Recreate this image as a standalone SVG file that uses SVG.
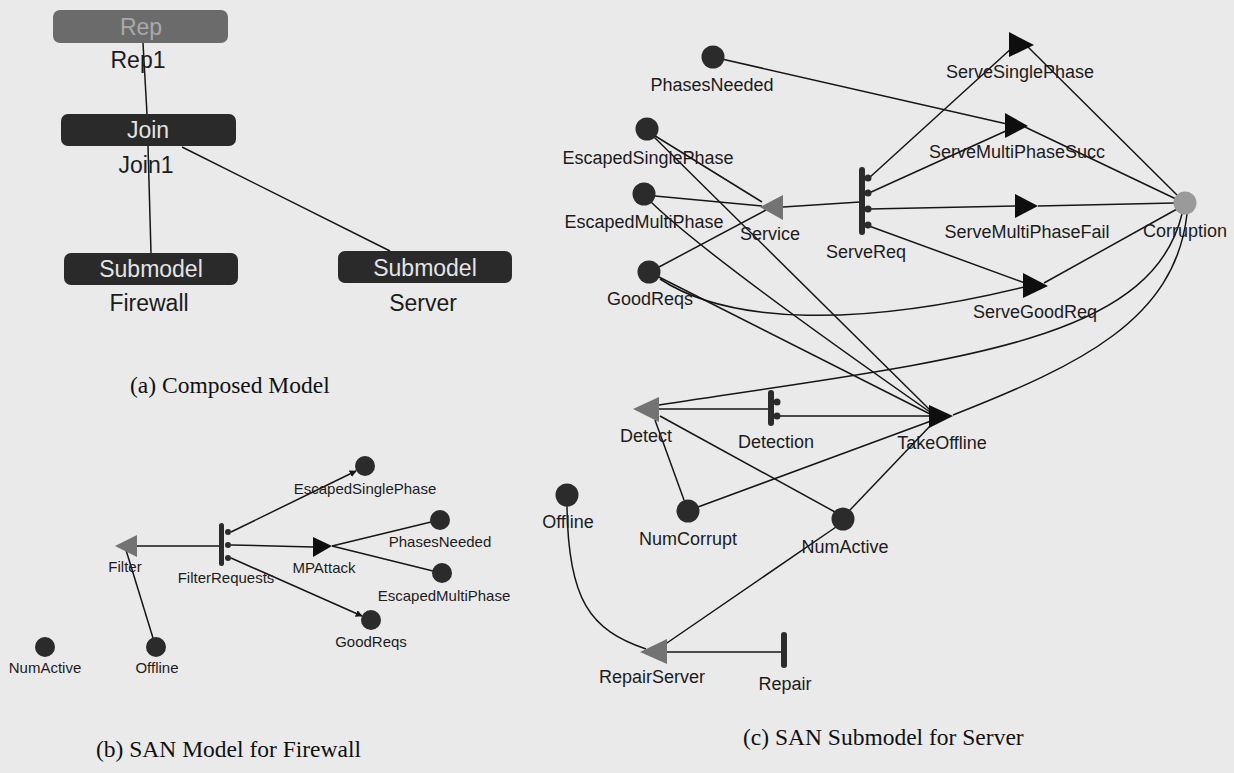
<svg xmlns="http://www.w3.org/2000/svg" width="1234" height="773" viewBox="0 0 1234 773">
  <defs>
    <style>
      .lbl { font-family: "Liberation Sans", Arial, sans-serif; fill: #1c1c1c; text-anchor: middle; }
      .fw { font-size: 15px; }
      .sv { font-size: 18px; }
      .cm { font-size: 23px; }
      .boxtxt { font-family: "Liberation Sans", Arial, sans-serif; font-size: 23px; text-anchor: middle; fill: #e4e4e4; }
      .cap { font-family: "Liberation Serif", "Times New Roman", serif; font-size: 23.5px; fill: #111; }
      .arc { stroke: #161616; stroke-width: 1.5; fill: none; }
      .place { fill: #2b2b2b; }
      .shared { fill: #9a9a9a; }
      .ingate { fill: #737373; }
      .outgate { fill: #0e0e0e; }
      .act { fill: #2b2b2b; }
      .box { fill: #2a2a2a; }
      .repbox { fill: #6b6b6b; }
    </style>
    <marker id="head" viewBox="0 0 10 10" refX="9" refY="5" markerWidth="7" markerHeight="7" orient="auto" markerUnits="userSpaceOnUse">
      <path d="M0,0 L10,5 L0,10 z" fill="#161616"/>
    </marker>
  </defs>

  <rect width="1234" height="773" fill="#eaeaea"/>

  <!-- ===== (a) composed model ===== -->
  <g id="composed-connectors">
    <line class="arc" x1="143" y1="43" x2="147" y2="114"/>
    <line class="arc" x1="148" y1="146" x2="151" y2="253"/>
    <line class="arc" x1="182" y1="147" x2="390" y2="251"/>
  </g>
  <g id="rep1">
    <rect class="repbox" x="53" y="10" width="175" height="33" rx="7"/>
    <text class="boxtxt" x="141" y="35" fill="#a9a9a9" style="fill:#a9a9a9">Rep</text>
    <text class="lbl cm" x="138" y="68">Rep1</text>
  </g>
  <g id="join1">
    <rect class="box" x="61" y="114" width="175" height="32" rx="7"/>
    <text class="boxtxt" x="148" y="138">Join</text>
    <text class="lbl cm" x="146" y="173">Join1</text>
  </g>
  <g id="firewall-submodel">
    <rect class="box" x="64" y="253" width="174" height="32" rx="7"/>
    <text class="boxtxt" x="151" y="277">Submodel</text>
    <text class="lbl cm" x="149" y="311">Firewall</text>
  </g>
  <g id="server-submodel">
    <rect class="box" x="338" y="251" width="174" height="32" rx="7"/>
    <text class="boxtxt" x="425" y="276">Submodel</text>
    <text class="lbl cm" x="423" y="311">Server</text>
  </g>
  <text class="cap" x="130" y="393">(a) Composed Model</text>

  <!-- ===== (b) firewall SAN ===== -->
  <g id="firewall-connectors">
    <line class="arc" x1="137" y1="546" x2="220" y2="546"/>
    <line class="arc" x1="231" y1="545" x2="313" y2="547"/>
    <line class="arc" x1="332" y1="546" x2="431" y2="522"/>
    <line class="arc" x1="332" y1="546" x2="433" y2="571"/>
    <line class="arc" x1="231" y1="532" x2="356" y2="471" marker-end="url(#head)"/>
    <line class="arc" x1="231" y1="558" x2="362" y2="616" marker-end="url(#head)"/>
    <line class="arc" x1="153" y1="638" x2="126" y2="550"/>
  </g>
  <g id="fw-filter">
    <polygon class="ingate" points="115,546 137,535 137,557"/>
    <text class="lbl fw" x="125" y="572">Filter</text>
  </g>
  <g id="fw-filterrequests">
    <rect class="act" x="219" y="523" width="5" height="43" rx="2.5"/>
    <circle class="act" cx="228" cy="532" r="3"/>
    <circle class="act" cx="228" cy="545" r="3"/>
    <circle class="act" cx="228" cy="558" r="3"/>
    <text class="lbl fw" x="226" y="583">FilterRequests</text>
  </g>
  <g id="fw-mpattack">
    <polygon class="outgate" points="313,537 332,546 313,557"/>
    <text class="lbl fw" x="324" y="573">MPAttack</text>
  </g>
  <g id="fw-escapedsinglephase">
    <circle class="place" cx="365" cy="466" r="10"/>
    <text class="lbl fw" x="365" y="494">EscapedSinglePhase</text>
  </g>
  <g id="fw-phasesneeded">
    <circle class="place" cx="440" cy="520" r="10"/>
    <text class="lbl fw" x="440" y="547">PhasesNeeded</text>
  </g>
  <g id="fw-escapedmultiphase">
    <circle class="place" cx="442" cy="573" r="10"/>
    <text class="lbl fw" x="444" y="601">EscapedMultiPhase</text>
  </g>
  <g id="fw-goodreqs">
    <circle class="place" cx="371" cy="620" r="10"/>
    <text class="lbl fw" x="371" y="647">GoodReqs</text>
  </g>
  <g id="fw-offline">
    <circle class="place" cx="156" cy="647" r="10"/>
    <text class="lbl fw" x="157" y="673">Offline</text>
  </g>
  <g id="fw-numactive">
    <circle class="place" cx="45" cy="647" r="10"/>
    <text class="lbl fw" x="45" y="673">NumActive</text>
  </g>
  <text class="cap" x="96" y="757">(b) SAN Model for Firewall</text>

  <!-- ===== (c) server SAN ===== -->
  <g id="server-connectors">
    <line class="arc" x1="713" y1="57" x2="1007" y2="124"/>
    <line class="arc" x1="869" y1="178" x2="1013" y2="47"/>
    <line class="arc" x1="1027" y1="46" x2="1178" y2="196"/>
    <line class="arc" x1="869" y1="193" x2="1008" y2="130"/>
    <line class="arc" x1="1025" y1="127" x2="1176" y2="199"/>
    <line class="arc" x1="869" y1="209" x2="1015" y2="206"/>
    <line class="arc" x1="1038" y1="206" x2="1174" y2="203"/>
    <line class="arc" x1="869" y1="226" x2="1025" y2="283"/>
    <line class="arc" x1="1044" y1="283" x2="1177" y2="209"/>
    <line class="arc" x1="783" y1="207" x2="860" y2="202"/>
    <line class="arc" x1="652" y1="134" x2="762" y2="202"/>
    <line class="arc" x1="655" y1="196" x2="762" y2="206"/>
    <line class="arc" x1="659" y1="267" x2="766" y2="210"/>
    <line class="arc" x1="652" y1="135" x2="930" y2="410"/>
    <path class="arc" d="M650,201 Q705,255 930,412"/>
    <line class="arc" x1="657" y1="276" x2="930" y2="414"/>
    <path class="arc" d="M660,279 C730,325 860,327 1024,287"/>
    <line class="arc" x1="768" y1="409" x2="659" y2="409"/>
    <line class="arc" x1="780" y1="416" x2="929" y2="416"/>
    <path class="arc" d="M659,405 C950,360 1150,345 1182,214"/>
    <path class="arc" d="M953,415 C1080,365 1175,320 1187,214"/>
    <line class="arc" x1="655" y1="420" x2="684" y2="500"/>
    <line class="arc" x1="660" y1="416" x2="835" y2="512"/>
    <line class="arc" x1="698" y1="507" x2="931" y2="421"/>
    <line class="arc" x1="850" y1="510" x2="931" y2="425"/>
    <line class="arc" x1="836" y1="527" x2="664" y2="645"/>
    <path class="arc" d="M567,506 C568,600 590,630 646,649"/>
    <line class="arc" x1="782" y1="652" x2="667" y2="652"/>
  </g>
  <g id="sv-phasesneeded">
    <circle class="place" cx="713" cy="57" r="11.5"/>
    <text class="lbl sv" x="712" y="91">PhasesNeeded</text>
  </g>
  <g id="sv-escapedsinglephase">
    <circle class="place" cx="647" cy="129" r="11.5"/>
    <text class="lbl sv" x="648" y="164">EscapedSinglePhase</text>
  </g>
  <g id="sv-escapedmultiphase">
    <circle class="place" cx="644" cy="194" r="11.5"/>
    <text class="lbl sv" x="644" y="228">EscapedMultiPhase</text>
  </g>
  <g id="sv-goodreqs">
    <circle class="place" cx="649" cy="272" r="11.5"/>
    <text class="lbl sv" x="650" y="305">GoodReqs</text>
  </g>
  <g id="sv-service">
    <polygon class="ingate" points="760,207 783,195 783,220"/>
    <text class="lbl sv" x="770" y="240">Service</text>
  </g>
  <g id="sv-servereq">
    <rect class="act" x="859" y="167" width="6" height="68" rx="3"/>
    <circle class="act" cx="868" cy="178" r="3.5"/>
    <circle class="act" cx="868" cy="193" r="3.5"/>
    <circle class="act" cx="868" cy="209" r="3.5"/>
    <circle class="act" cx="868" cy="225" r="3.5"/>
    <text class="lbl sv" x="866" y="258">ServeReq</text>
  </g>
  <g id="sv-servesinglephase">
    <polygon class="outgate" points="1009,32 1034,45 1009,57"/>
    <text class="lbl sv" x="1020" y="78">ServeSinglePhase</text>
  </g>
  <g id="sv-servemultiphasesucc">
    <polygon class="outgate" points="1005,113 1028,126 1005,138"/>
    <text class="lbl sv" x="1017" y="158">ServeMultiPhaseSucc</text>
  </g>
  <g id="sv-servemultiphasefail">
    <polygon class="outgate" points="1015,194 1038,206 1015,218"/>
    <text class="lbl sv" x="1027" y="238">ServeMultiPhaseFail</text>
  </g>
  <g id="sv-servegoodreq">
    <polygon class="outgate" points="1023,273 1048,286 1023,298"/>
    <text class="lbl sv" x="1035" y="318">ServeGoodReq</text>
  </g>
  <g id="sv-corruption">
    <circle class="shared" cx="1185" cy="203" r="11.5"/>
    <text class="lbl sv" x="1185" y="237">Corruption</text>
  </g>
  <g id="sv-detect">
    <polygon class="ingate" points="633,409 659,397 659,422"/>
    <text class="lbl sv" x="646" y="442">Detect</text>
  </g>
  <g id="sv-detection">
    <rect class="act" x="768" y="390" width="6" height="36" rx="3"/>
    <circle class="act" cx="777" cy="402" r="3.5"/>
    <circle class="act" cx="777" cy="416" r="3.5"/>
    <text class="lbl sv" x="776" y="448">Detection</text>
  </g>
  <g id="sv-takeoffline">
    <polygon class="outgate" points="929,405 953,416 929,428"/>
    <text class="lbl sv" x="942" y="449">TakeOffline</text>
  </g>
  <g id="sv-offline">
    <circle class="place" cx="567" cy="495" r="11.5"/>
    <text class="lbl sv" x="568" y="528">Offline</text>
  </g>
  <g id="sv-numcorrupt">
    <circle class="place" cx="688" cy="511" r="11.5"/>
    <text class="lbl sv" x="688" y="545">NumCorrupt</text>
  </g>
  <g id="sv-numactive">
    <circle class="place" cx="843" cy="519" r="11.5"/>
    <text class="lbl sv" x="845" y="553">NumActive</text>
  </g>
  <g id="sv-repairserver">
    <polygon class="ingate" points="640,652 667,639 667,664"/>
    <text class="lbl sv" x="652" y="683">RepairServer</text>
  </g>
  <g id="sv-repair">
    <rect class="act" x="781" y="632" width="6" height="36" rx="3"/>
    <text class="lbl sv" x="785" y="690">Repair</text>
  </g>
  <text class="cap" x="743" y="745">(c) SAN Submodel for Server</text>
</svg>
